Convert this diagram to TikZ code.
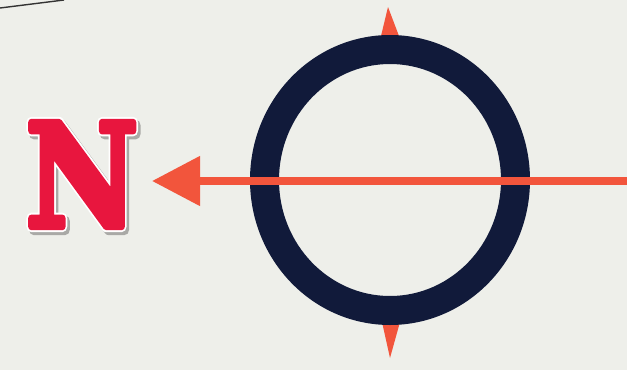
\documentclass[tikz,border=0pt]{standalone}
\usepackage{fontspec}
\newfontfamily\nfont{DejaVu Serif}[BoldFont={DejaVu Serif Bold}]
\usetikzlibrary{arrows.meta}
\definecolor{bg}{HTML}{EEEFEA}
\definecolor{navy}{HTML}{111A3A}
\definecolor{linered}{HTML}{F2553C}
\definecolor{nred}{HTML}{E8163E}
\definecolor{shadowgray}{HTML}{A9A9A6}
\newcommand\strokedletter[2]{\special{pdf:literal direct 2 Tr #1 w 1 j}#2\special{pdf:literal direct 0 Tr 1 w 0 j}}
\newcommand\fancyletter[1]{%
  \rlap{\kern3pt\raisebox{-3pt}{\color{shadowgray}\strokedletter{11}{#1}}}%
  \rlap{\color{white}\strokedletter{11}{#1}}%
  {\color{nred}\strokedletter{7}{#1}}}
\tikzset{
  letter/.style={inner sep=0pt, font=\nfont\bfseries\fontsize{143}{143}\selectfont, xscale=0.86},
  marker/.style={fill=linered, draw=none},
  pointer/.style={draw=linered, line width=8pt, -{Triangle[length=48pt,width=48pt]}},
}
\begin{document}
\begin{tikzpicture}[x=1pt,y=-1pt]
\fill[bg] (0,0) rectangle (627,370);
\useasboundingbox (0,0) rectangle (627,370);
% corner line
\coordinate (c1) at (0,8);
\coordinate (c2) at (64,0);
\draw[black!80, line width=1.4pt] (c1) -- (c2);
% N/S markers
\fill[marker] (381,36) -- (388,7) -- (399,36) -- cycle;
\fill[marker] (382,322) -- (390,358) -- (400,322) -- cycle;
% ring
\fill[navy, even odd rule] (390,180) ellipse [x radius=140, y radius=145]
                           (390,180) ellipse [x radius=111, y radius=116];
% arrow
\coordinate (E) at (627,181);
\coordinate (tip) at (152,181);
\draw[pointer] (E) -- (tip);
% letter N with outline and shadow
\node[letter] (N) at (82,176) {\fancyletter{N}};
\end{tikzpicture}
\end{document}
